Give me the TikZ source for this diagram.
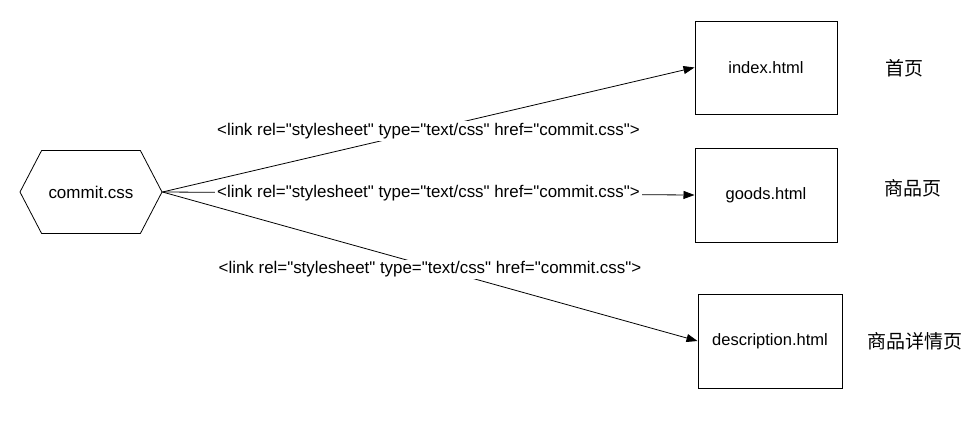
\documentclass[tikz,border=0pt]{standalone}
\usepackage{fontspec}
\setmainfont{Liberation Sans}
\newfontfamily\linkfont{Liberation Sans}
\newfontfamily\cjk{Noto Sans CJK SC}
\usetikzlibrary{positioning,shapes.symbols,arrows.meta}

\tikzset{
  page/.style={draw, line width=1pt, minimum width=142pt, minimum height=93pt,
    font=\fontsize{16.5}{20}\selectfont},
  sheet/.style={signal, signal to=east and west, signal pointer angle=125,
    draw, line width=0.8pt, minimum width=142pt, minimum height=83pt,
    font=\fontsize{17}{20}\selectfont},
  link/.style={-{Triangle[length=11pt,width=8pt]}, line width=0.8pt},
  tag/.style={midway, fill=white, inner sep=2pt, font=\linkfont\fontsize{16.9}{20}\selectfont},
  pagename/.style={anchor=west, inner sep=0pt, font=\cjk\fontsize{19}{22}\selectfont}
}

\begin{document}
\begin{tikzpicture}[x=1pt, y=-1pt]
  \useasboundingbox (0,0) rectangle (970,421);

  % Define nodes
  \node[sheet]                    (css)   at (91,192)  {commit.css};
  \node[page]                     (index) at (766,67.5) {index.html};
  \node[page, minimum height=94pt] (goods) at (766,195) {goods.html};
  \node[page, minimum width=144pt, minimum height=94pt] (desc) at (770,341) {description.html};

  \node[pagename] (indexname) at (885,68)  {首页};
  \node[pagename] (goodsname) at (884,188) {商品页};
  \node[pagename] (descname)  at (867,341) {商品详情页};

  % Links
  \draw[link] (css.east) -- (index.west) node[tag, yshift=-1pt] {<link rel="stylesheet" type="text/css" href="commit.css">};
  \draw[link] (css.east) -- (goods.west) node[tag] {<link rel="stylesheet" type="text/css" href="commit.css">};
  \draw[link] (css.east) -- (desc.west)  node[tag, yshift=-3pt] {<link rel="stylesheet" type="text/css" href="commit.css">};

\end{tikzpicture}
\end{document}
